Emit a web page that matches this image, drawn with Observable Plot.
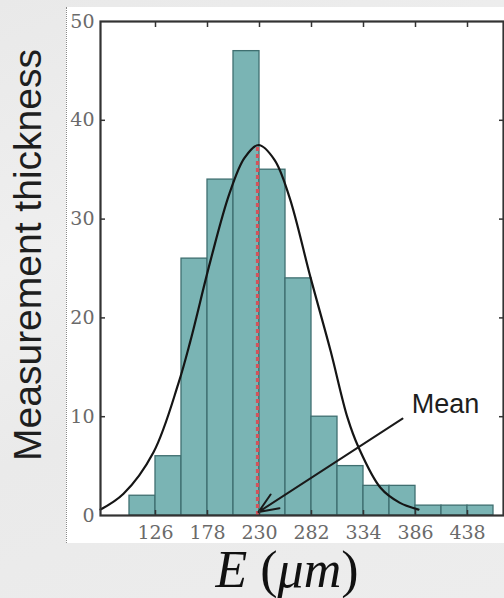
<!DOCTYPE html>
<html>
<head>
<meta charset="utf-8">
<script src="https://cdn.jsdelivr.net/npm/d3@7"></script>
<script src="https://cdn.jsdelivr.net/npm/@observablehq/plot@0.6"></script>
<style>
  html, body { margin: 0; padding: 0; }
  body { width: 504px; height: 598px; overflow: hidden; position: relative;
         background: linear-gradient(160deg, #e9e9e9 0%, #efefef 35%, #eaeaea 60%, #ededed 100%); }
  #panel { position: absolute; left: 66px; top: 7px; width: 438px; height: 536px; background: #fff;
           border-left: 1px dotted #8a8a8a; box-sizing: border-box; }
  #chart { position: absolute; left: 0; top: 0; }
  #ylab { position: absolute; left: -182px; top: 235px; width: 420px; height: 40px; line-height: 40px;
          text-align: center; transform: rotate(-90deg); font-family: "Liberation Sans", Arial, sans-serif;
          font-size: 39px; color: #1e1e1e; white-space: nowrap; }
  #xlab { position: absolute; left: 187px; top: 550px; width: 200px; height: 40px; line-height: 40px;
          text-align: center; font-family: "Liberation Serif", "Times New Roman", serif;
          font-size: 52px; color: #111; white-space: nowrap; }
</style>
</head>
<body>
<div id="panel"></div>
<div id="chart"></div>
<div id="ylab">Measurement thickness</div>
<div id="xlab"><i>E</i> (<i>μm</i>)</div>
<script>
// Histogram bins (E in µm) and counts
const binEdges = [100, 126, 152, 178, 204, 230, 256, 282, 308, 334, 360, 386, 412, 438, 464];
const counts   = [2, 6, 26, 34, 47, 35, 24, 10, 5, 3, 3, 1, 1, 1];

// Fitted curve, points
const curveX = [71, 94, 124, 149, 161, 181, 200, 215, 229, 245, 260, 281, 301, 318, 329, 351, 370, 389];
const curveY = [0.6, 2.2, 6.4, 13.4, 17.7, 25.8, 32.6, 36.2, 37.5, 36.0, 32.2, 24.1, 16.7, 9.9, 6.9, 2.8, 1.3, 0.6];

// Mean marker
const meanValue = 228;
const meanTop = 37.3;
const meanLabel = "Mean";
const meanLabelPos = [416, 11.2];
const arrowFrom = [373, 9.8];
const arrowTo = [229, 0.35];

// Ticks
const xTicks = [126, 178, 230, 282, 334, 386, 438];
const yTicks = [0, 10, 20, 30, 40, 50];
const yInnerTicks = [10, 20, 30, 40];

const bars = counts.map((c, i) => ({x1: binEdges[i], x2: binEdges[i + 1], y: c}));
const curve = curveX.map((x, i) => ({x, y: curveY[i]}));

const chart = Plot.plot({
  width: 504,
  height: 598,
  marginLeft: 100,
  marginRight: 1,
  marginTop: 21,
  marginBottom: 83,
  style: {background: "transparent", fontFamily: "DejaVu Serif, serif", fontSize: "19px", overflow: "visible"},
  x: {domain: [71, 474]},
  y: {domain: [0, 50]},
  marks: [
    Plot.rectY(bars, {x1: "x1", x2: "x2", y: "y", fill: "#7ab4b4", stroke: "#3f6f70", strokeWidth: 1.3}),
    Plot.line(curve, {x: "x", y: "y", curve: "catmull-rom", stroke: "#151515", strokeWidth: 2.2}),
    Plot.ruleX([meanValue], {y1: 0, y2: meanTop, stroke: "#d2535b", strokeWidth: 3.2, strokeDasharray: "4,3"}),
    Plot.arrow([0], {x1: () => arrowFrom[0], y1: () => arrowFrom[1], x2: () => arrowTo[0], y2: () => arrowTo[1],
      stroke: "#1a1a1a", strokeWidth: 2, headLength: 16, headAngle: 45}),
    Plot.text([meanLabel], {x: meanLabelPos[0], y: meanLabelPos[1], text: d => d, fontFamily: "Liberation Sans, Arial, sans-serif",
      fontSize: 27, fill: "#1e1e1e", textAnchor: "middle", lineAnchor: "middle"}),
    Plot.frame({stroke: "#333", strokeWidth: 2.2}),
    Plot.axisX(xTicks, {anchor: "bottom", tickSize: -5, tickPadding: 15, stroke: "#333", fill: "#6a6a6a", strokeWidth: 1.5, label: null}),
    Plot.axisX(xTicks, {anchor: "top", tickSize: -5, stroke: "#333", fill: "none", strokeWidth: 1.5, label: null}),
    Plot.axisY(yTicks, {anchor: "left", tickSize: 0, tickPadding: 6, fill: "#6a6a6a", stroke: "none", label: null}),
    Plot.axisY(yInnerTicks, {anchor: "left", tickSize: -5, stroke: "#333", fill: "none", strokeWidth: 1.5, label: null}),
    Plot.axisY(yInnerTicks, {anchor: "right", tickSize: -5, stroke: "#333", fill: "none", strokeWidth: 1.5, label: null})
  ]
});
document.getElementById("chart").appendChild(chart);
</script>
</body>
</html>
